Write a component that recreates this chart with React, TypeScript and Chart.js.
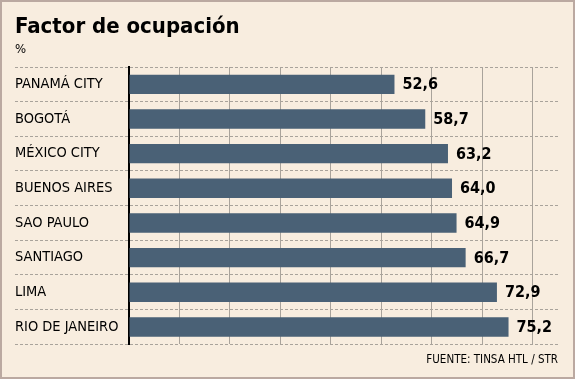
import React, { useEffect, useRef } from "react";
import { Chart, registerables } from "chart.js";

Chart.register(...registerables);

const categories = [
  "PANAMÁ CITY",
  "BOGOTÁ",
  "MÉXICO CITY",
  "BUENOS AIRES",
  "SAO PAULO",
  "SANTIAGO",
  "LIMA",
  "RIO DE JANEIRO",
];
const occupancy = [52.6, 58.7, 63.2, 64.0, 64.9, 66.7, 72.9, 75.2];
const titleText = "Factor de ocupación";
const unitText = "%";
const sourceText = "FUENTE: TINSA HTL / STR";

const FONT = '"DejaVu Sans Condensed", "DejaVu Sans", sans-serif';
const BG = "#f8eddf";
const BAR = "#4a6176";
const GRID = "#a9a39b";

const valueLabels = {
  id: "valueLabels",
  afterDatasetsDraw(chart: any) {
    const ctx = chart.ctx;
    const meta = chart.getDatasetMeta(0);
    ctx.save();
    ctx.font = `bold 16px ${FONT}`;
    ctx.fillStyle = "#000";
    ctx.textAlign = "left";
    ctx.textBaseline = "middle";
    meta.data.forEach((bar: any, i: number) => {
      const v = chart.data.datasets[0].data[i] as number;
      ctx.fillText(v.toFixed(1).replace(".", ","), bar.x + 8, bar.y + 1);
    });
    ctx.restore();
  },
};

export default function App() {
  const ref = useRef<HTMLCanvasElement | null>(null);

  useEffect(() => {
    document.body.style.margin = "0";
    const canvas = ref.current;
    if (!canvas) return;
    const chart = new Chart(canvas, {
      type: "bar",
      data: {
        labels: categories,
        datasets: [
          {
            data: occupancy,
            backgroundColor: BAR,
            borderWidth: 0,
            barPercentage: 0.56,
            categoryPercentage: 1,
          },
        ],
      },
      options: {
        indexAxis: "y",
        responsive: false,
        maintainAspectRatio: false,
        animation: false,
        devicePixelRatio: 1,
        layout: { padding: { left: 15, right: 17, top: 0, bottom: 11.6 } },
        plugins: {
          legend: { display: false },
          tooltip: { enabled: false },
          title: {
            display: true,
            text: titleText,
            align: "start",
            color: "#000",
            font: { family: FONT, size: 22, weight: "bold", lineHeight: 1.2 },
            padding: { top: 14, bottom: 0 },
          },
          subtitle: {
            display: true,
            text: unitText,
            align: "start",
            color: "#000",
            font: { family: FONT, size: 13, lineHeight: 1.2 },
            padding: { top: 1.8, bottom: 9.2 },
          },
        },
        scales: {
          x: {
            min: 0,
            max: 85,
            ticks: { display: false, stepSize: 10, includeBounds: false },
            grid: {
              drawTicks: false,
              color: (c: any) => (c.tick && c.tick.value === 0 ? "rgba(0,0,0,0)" : GRID),
              lineWidth: 1,
            },
            border: { display: false },
            title: {
              display: true,
              text: sourceText,
              align: "end",
              color: "#000",
              font: { family: FONT, size: 11.5, lineHeight: 1.2 },
              padding: { top: 9.3, bottom: 0 },
            },
          },
          y: {
            offset: true,
            afterFit: (scale: any) => {
              scale.width = 114;
            },
            ticks: {
              crossAlign: "far",
              color: "#000",
              font: { family: FONT, size: 14.5 },
              padding: 0,
            },
            grid: {
              offset: true,
              color: GRID,
              tickColor: GRID,
              tickBorderDash: [3, 2],
              tickLength: 114,
              lineWidth: 1,
            },
            border: { display: true, color: "#000", width: 2, dash: [3, 2] },
          },
        },
      },
      plugins: [valueLabels],
    });
    return () => chart.destroy();
  }, []);

  return (
    <div
      style={{
        position: "relative",
        width: 575,
        height: 379,
        boxSizing: "border-box",
        border: "2px solid #bba9a1",
        background: BG,
      }}
    >
      <canvas
        ref={ref}
        width={575}
        height={379}
        style={{ position: "absolute", left: -2, top: -2, width: 575, height: 379 }}
      />
    </div>
  );
}
